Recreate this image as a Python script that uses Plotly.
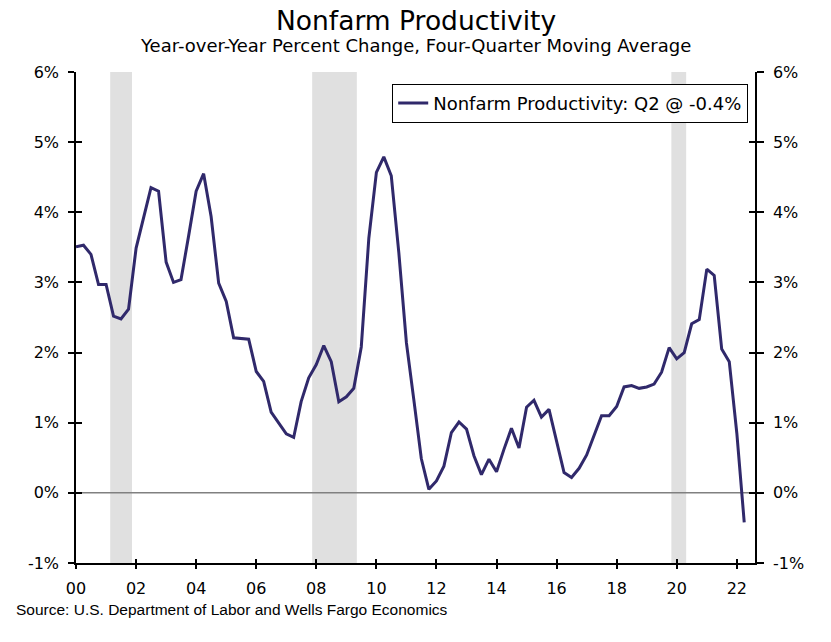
import pandas as pd
import plotly.graph_objects as go

# ---- data ----
start_quarter = "2000-01-01"
n_quarters = 90
productivity = [
    3.51, 3.53, 3.40, 2.97, 2.97, 2.52, 2.48, 2.62, 3.49, 3.94, 4.35, 4.30,
    3.29, 3.00, 3.04, 3.66, 4.30, 4.55, 3.94, 2.99, 2.73, 2.21, 2.20, 2.19,
    1.73, 1.59, 1.15, 1.00, 0.84, 0.79, 1.30, 1.64, 1.83, 2.10, 1.87, 1.30,
    1.37, 1.49, 2.08, 3.63, 4.57, 4.79, 4.52, 3.42, 2.14, 1.33, 0.49, 0.05,
    0.17, 0.38, 0.86, 1.01, 0.91, 0.53, 0.26, 0.48, 0.30, 0.62, 0.92, 0.64,
    1.22, 1.32, 1.08, 1.19, 0.73, 0.29, 0.22, 0.35, 0.54, 0.81, 1.10, 1.10,
    1.23, 1.51, 1.53, 1.49, 1.51, 1.55, 1.72, 2.07, 1.91, 2.00, 2.41, 2.47,
    3.19, 3.10, 2.05, 1.87, 0.85, -0.42,
]
recession_starts = ["2001-02-20", "2007-11-12", "2019-10-28"]
recession_ends = ["2001-11-12", "2009-05-08", "2020-04-25"]
y_tickvals = [-1, 0, 1, 2, 3, 4, 5, 6]
y_ticktext = ["-1%", "0%", "1%", "2%", "3%", "4%", "5%", "6%"]
series_name = "Nonfarm Productivity: Q2 @ -0.4%"
title_text = "Nonfarm Productivity"
subtitle_text = "Year-over-Year Percent Change, Four-Quarter Moving Average"
source_text = "Source: U.S. Department of Labor and Wells Fargo Economics"

dates = pd.date_range(start_quarter, periods=n_quarters, freq="QS")
x_range = ["2000-01-01", "2022-08-10"]
y_range = [-1, 6]

LINE_COLOR = "#30296B"
FONT = "DejaVu Sans"

fig = go.Figure()
fig.add_trace(go.Scatter(x=dates, y=productivity, mode="lines", name=series_name,
                         line=dict(color=LINE_COLOR, width=3), xaxis="x", yaxis="y"))
# helper traces so the extra axes are drawn
for xa, ya in [("x", "y2"), ("x2", "y3"), ("x2", "y4")]:
    fig.add_trace(go.Scatter(x=[], y=[], xaxis=xa, yaxis=ya, showlegend=False,
                             hoverinfo="skip"))

for s, e in zip(recession_starts, recession_ends):
    fig.add_shape(type="rect", xref="x", yref="paper", x0=s, x1=e, y0=0, y1=1,
                  fillcolor="#E0E0E0", line=dict(width=0), layer="below")
fig.add_shape(type="line", xref="paper", yref="y", x0=0, x1=1, y0=0, y1=0,
              line=dict(color="#808080", width=1.5), layer="below")

axis_font = dict(family=FONT, size=16, color="black")
common_y = dict(range=y_range, tickvals=y_tickvals, ticktext=y_ticktext,
                showgrid=False, zeroline=False, tickfont=axis_font,
                tickcolor="black", tickwidth=1.5)

fig.update_layout(
    width=831, height=642,
    margin=dict(l=76, r=76, t=72, b=79),
    paper_bgcolor="white", plot_bgcolor="white",
    showlegend=True,
    legend=dict(x=0.99, y=0.976, xanchor="right", yanchor="top",
                bordercolor="black", borderwidth=1, bgcolor="white",
                font=dict(family=FONT, size=18, color="black"),
                itemwidth=30, tracegroupgap=0),
    xaxis=dict(type="date", range=x_range, dtick="M24", tick0="2000-01-01",
               tickformat="%y", showgrid=False, zeroline=False,
               showline=True, linecolor="black", linewidth=1.5,
               ticks="outside", ticklen=4, tickwidth=1.5, tickcolor="black",
               tickfont=axis_font, ticklabelstandoff=6),
    xaxis2=dict(type="date", range=x_range, dtick="M24", tick0="2000-01-01",
                overlaying="x", anchor="y", showgrid=False, zeroline=False,
                showticklabels=False, ticks="inside", ticklen=4, tickwidth=1.5,
                tickcolor="black", showline=False),
    yaxis=dict(**common_y, side="left", showline=True, linecolor="black",
               linewidth=1.5, ticks="outside", ticklen=6, anchor="x",
               ticklabelstandoff=6),
    yaxis2=dict(**common_y, side="right", overlaying="y", showline=True,
                linecolor="black", linewidth=1.5, ticks="outside", ticklen=7,
                anchor="x", ticklabelstandoff=6),
    yaxis3=dict(**common_y, side="left", overlaying="y", showticklabels=False,
                ticks="inside", ticklen=6, anchor="x2", showline=False),
    yaxis4=dict(**common_y, side="right", overlaying="y", showticklabels=False,
                ticks="inside", ticklen=6, anchor="x2", showline=False),
    annotations=[
        dict(text=title_text, xref="paper", yref="paper", x=0.5, y=1.104,
             xanchor="center", yanchor="middle", showarrow=False,
             font=dict(family=FONT, size=26.5, color="black")),
        dict(text=subtitle_text, xref="paper", yref="paper", x=0.5, y=1.053,
             xanchor="center", yanchor="middle", showarrow=False,
             font=dict(family=FONT, size=18, color="black")),
        dict(text=source_text, xref="paper", yref="paper", x=-0.0913, y=-0.0957,
             xanchor="left", yanchor="middle", showarrow=False,
             font=dict(family="Liberation Sans", size=15.5, color="black")),
    ],
)

fig.write_html("out.html", config={"displayModeBar": False},
               post_script="document.body.style.margin='0';document.body.style.overflow='hidden';")
